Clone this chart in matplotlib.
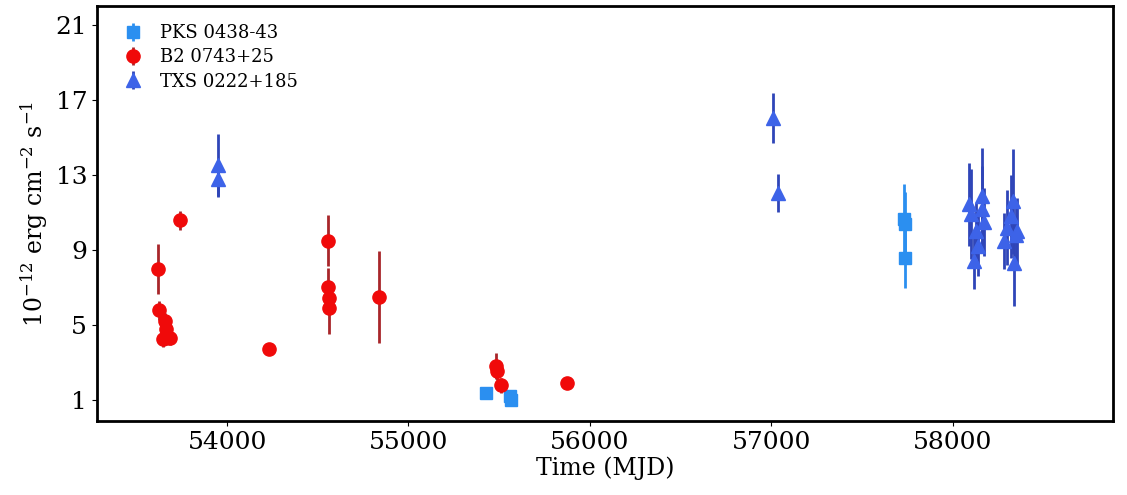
import numpy as np
import matplotlib.pyplot as plt

plt.rcParams['font.family'] = 'DejaVu Serif'
plt.rcParams['mathtext.fontset'] = 'dejavuserif'

# PKS 0438-43
pks_t = [55425, 55560, 55565, 57734, 57736, 57738]
pks_f = [1.40, 1.23, 1.02, 10.63, 10.38, 8.59]
pks_e = [0.25, 0.30, 0.30, 1.90, 1.70, 1.60]

# B2 0743+25
b2_t = [53620, 53625, 53657, 53662, 53668, 53648, 53685, 53739, 54230,
        54556, 54558, 54562, 54560, 54837, 55482, 55486, 55508, 55875]
b2_f = [7.97, 5.80, 5.22, 4.78, 4.37, 4.24, 4.33, 10.59, 3.74,
        9.51, 7.03, 6.46, 5.93, 6.49, 2.83, 2.56, 1.80, 1.94]
b2_e = [1.33, 0.50, 0.45, 0.45, 0.45, 0.40, 0.40, 0.50, 0.20,
        1.35, 1.00, 0.90, 1.40, 2.45, 0.70, 0.50, 0.40, 0.30]

# TXS 0222+185
txs_t = [53950, 53952, 57012, 57040,
         58092, 58100, 58165, 58160, 58130, 58138, 58119, 58172,
         58285, 58300, 58331, 58349, 58340, 58320, 58356]
txs_f = [13.55, 12.81, 16.03, 12.04,
         11.43, 10.90, 11.87, 11.20, 10.00, 9.20, 8.41, 10.50,
         9.47, 10.20, 11.60, 9.83, 8.32, 10.80, 10.00]
txs_e = [1.65, 1.00, 1.35, 1.00,
         2.20, 2.40, 2.55, 2.30, 1.50, 1.60, 1.50, 1.80,
         1.50, 2.00, 2.80, 1.60, 2.30, 2.20, 1.80]

fig, ax = plt.subplots(figsize=(11.27, 4.95), dpi=100)
fig.subplots_adjust(left=0.086, right=0.9876, top=0.988, bottom=0.1495)

ax.errorbar(pks_t, pks_f, yerr=pks_e, fmt='s', color='#2b8ff0', ecolor='#2b8ff0',
            ms=8.5, elinewidth=2, label='PKS 0438-43')
ax.errorbar(b2_t, b2_f, yerr=b2_e, fmt='o', color='#f00a0a', ecolor='#a8262a',
            ms=9.5, elinewidth=2, label='B2 0743+25')
ax.errorbar(txs_t, txs_f, yerr=txs_e, fmt='^', color='#3d63e8', ecolor='#2f45b8',
            ms=10, elinewidth=2, label='TXS 0222+185')

ax.set_xlim(53282, 58885)
ax.set_ylim(-0.1, 22)
ax.set_yticks([1, 5, 9, 13, 17, 21])
ax.set_xticks([54000, 55000, 56000, 57000, 58000])
ax.tick_params(labelsize=18)
ax.set_xlabel('Time (MJD)', fontsize=17, labelpad=2)
ax.set_ylabel(r'10$^{-12}$ erg cm$^{-2}$ s$^{-1}$', fontsize=17)
for s in ax.spines.values():
    s.set_linewidth(2)

ax.legend(loc='upper left', fontsize=13, frameon=False, handletextpad=0.5,
          labelspacing=0.35, borderaxespad=0.6)

plt.savefig('out.png')
